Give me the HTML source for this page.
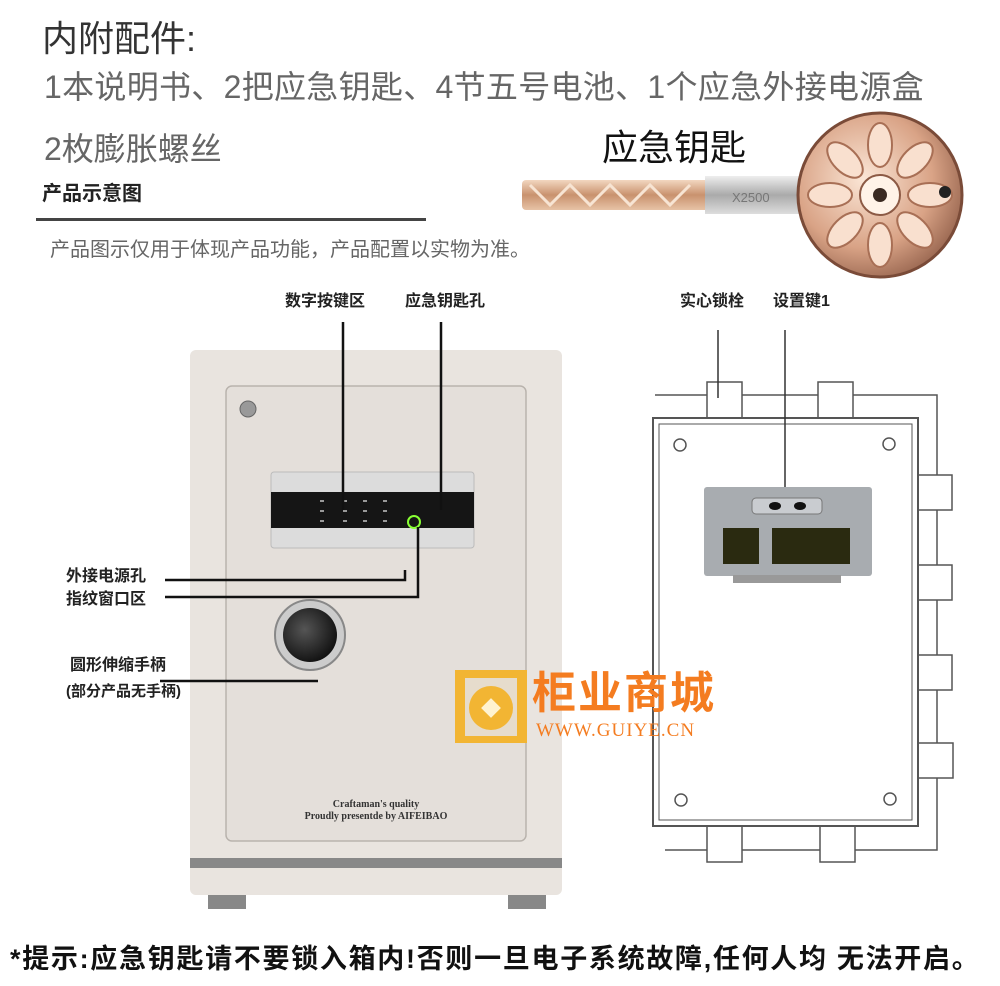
<!DOCTYPE html>
<html><head><meta charset="utf-8"><style>
*{margin:0;padding:0;box-sizing:border-box}
body{width:1000px;height:986px;background:#fff;position:relative;overflow:hidden;font-family:"Liberation Sans","Noto Sans CJK SC",sans-serif}
.t{position:absolute;white-space:nowrap;line-height:1.2}
</style></head><body>
<div class="t" style="left:42px;top:17px;font-size:36px;color:#333">内附配件:</div>
<div class="t" style="left:44px;top:68px;font-size:32px;color:#666;letter-spacing:0.3px">1本说明书、2把应急钥匙、4节五号电池、1个应急外接电源盒</div>
<div class="t" style="left:44px;top:130px;font-size:32px;color:#666">2枚膨胀螺丝</div>
<div class="t" style="left:602px;top:126px;font-size:36px;color:#111">应急钥匙</div>
<div class="t" style="left:42px;top:182px;font-size:20px;font-weight:bold;color:#222">产品示意图</div>
<div style="position:absolute;left:36px;top:218px;width:390px;height:3px;background:#444"></div>
<div class="t" style="left:50px;top:238px;font-size:20px;color:#666">产品图示仅用于体现产品功能，产品配置以实物为准。</div>

<svg style="position:absolute;left:0;top:0" width="1000" height="986">
<defs>
<linearGradient id="sh" x1="0" y1="0" x2="0" y2="1"><stop offset="0" stop-color="#f2d7c0"/><stop offset=".5" stop-color="#c9926e"/><stop offset="1" stop-color="#e7c3a6"/></linearGradient>
<linearGradient id="col" x1="0" y1="0" x2="0" y2="1"><stop offset="0" stop-color="#eee"/><stop offset=".5" stop-color="#aaa"/><stop offset="1" stop-color="#ddd"/></linearGradient>
<radialGradient id="hd" cx=".4" cy=".4" r=".7"><stop offset="0" stop-color="#fbe6d6"/><stop offset=".6" stop-color="#d9a386"/><stop offset="1" stop-color="#8c5a45"/></radialGradient>
<radialGradient id="kn" cx=".4" cy=".4" r=".7"><stop offset="0" stop-color="#555"/><stop offset="1" stop-color="#0a0a0a"/></radialGradient>
</defs>
<rect x="522" y="180" width="190" height="30" rx="4" fill="url(#sh)"/>
<path d="M530 185 l20 20 l20-20 l20 20 l20-20 l20 20 l20-20 l20 20 l20-20" stroke="#f7e4d3" stroke-width="3" fill="none"/>
<rect x="705" y="176" width="100" height="38" fill="url(#col)"/>
<text x="732" y="202" font-size="13" fill="#777" font-family="Liberation Sans">X2500</text>
<circle cx="880" cy="195" r="82" fill="url(#hd)" stroke="#7a4b38" stroke-width="3"/>
<g fill="#f9e0cf" stroke="#a86f55" stroke-width="2">
<ellipse cx="880" cy="145" rx="12" ry="22"/><ellipse cx="880" cy="245" rx="12" ry="22"/>
<ellipse cx="830" cy="195" rx="22" ry="12"/><ellipse cx="930" cy="195" rx="22" ry="12"/>
<ellipse cx="845" cy="160" rx="12" ry="22" transform="rotate(-45 845 160)"/><ellipse cx="915" cy="160" rx="12" ry="22" transform="rotate(45 915 160)"/>
<ellipse cx="845" cy="230" rx="12" ry="22" transform="rotate(45 845 230)"/><ellipse cx="915" cy="230" rx="12" ry="22" transform="rotate(-45 915 230)"/>
</g>
<circle cx="880" cy="195" r="20" fill="#fff3e8" stroke="#8c5a45" stroke-width="2"/>
<circle cx="880" cy="195" r="7" fill="#3a2a22"/>
<circle cx="945" cy="192" r="6" fill="#222"/>

<rect x="190" y="350" width="372" height="545" rx="6" fill="#e9e4df"/>
<rect x="226" y="386" width="300" height="455" rx="6" fill="#e4dfda" stroke="#b9b3ad" stroke-width="1.5"/>
<circle cx="248" cy="409" r="8" fill="#999" stroke="#666"/>
<rect x="271" y="472" width="203" height="76" rx="3" fill="#dcdcdc" stroke="#bbb"/>
<rect x="271" y="492" width="203" height="36" fill="#151515"/>
<g fill="#999"><rect x="320" y="500" width="4" height="2"/><rect x="343" y="500" width="4" height="2"/><rect x="363" y="500" width="4" height="2"/><rect x="383" y="500" width="4" height="2"/>
<rect x="320" y="510" width="4" height="2"/><rect x="343" y="510" width="4" height="2"/><rect x="363" y="510" width="4" height="2"/><rect x="383" y="510" width="4" height="2"/>
<rect x="320" y="520" width="4" height="2"/><rect x="343" y="520" width="4" height="2"/><rect x="363" y="520" width="4" height="2"/><rect x="383" y="520" width="4" height="2"/></g>
<circle cx="414" cy="522" r="6" fill="none" stroke="#8f3" stroke-width="2"/>
<circle cx="310" cy="635" r="35" fill="#ccc" stroke="#888" stroke-width="2"/>
<circle cx="310" cy="635" r="27" fill="url(#kn)"/>
<text x="376" y="807" font-size="10" font-family="Liberation Serif" font-weight="bold" text-anchor="middle" fill="#333">Craftaman's quality</text>
<text x="376" y="819" font-size="10" font-family="Liberation Serif" font-weight="bold" text-anchor="middle" fill="#333">Proudly presentde by AIFEIBAO</text>
<rect x="190" y="858" width="372" height="10" fill="#888"/>
<rect x="208" y="895" width="38" height="14" fill="#888"/><rect x="508" y="895" width="38" height="14" fill="#888"/>

<g stroke="#111" stroke-width="2.5" fill="none">
<path d="M343 322 V510"/><path d="M441 322 V510"/>
<path d="M165 580 H405 V570"/><path d="M165 597 H418 V527"/>
<path d="M160 681 H318"/>
</g>

<g stroke="#555" stroke-width="1.5" fill="#fff">
<path d="M655 395 H937 V850 H665" fill="none"/>
<rect x="707" y="382" width="35" height="36"/><rect x="818" y="382" width="35" height="36"/>
<rect x="707" y="825" width="35" height="37"/><rect x="820" y="825" width="35" height="37"/>
<rect x="917" y="475" width="35" height="35"/><rect x="917" y="565" width="35" height="35"/><rect x="917" y="655" width="35" height="35"/><rect x="918" y="743" width="35" height="35"/>
<rect x="653" y="418" width="265" height="408" stroke-width="2"/>
<rect x="659" y="424" width="253" height="396" stroke-width="1"/>
<circle cx="680" cy="445" r="6"/><circle cx="889" cy="444" r="6"/><circle cx="681" cy="800" r="6"/><circle cx="890" cy="799" r="6"/>
<path d="M718 330 V398 M785 330 V488" fill="none" stroke="#333"/>
</g>
<rect x="704" y="487" width="168" height="89" rx="3" fill="#a8acb0"/>
<rect x="752" y="498" width="70" height="16" rx="4" fill="#c9ccd0" stroke="#777"/>
<ellipse cx="775" cy="506" rx="6" ry="4" fill="#111"/><ellipse cx="800" cy="506" rx="6" ry="4" fill="#111"/>
<rect x="723" y="528" width="36" height="36" fill="#2a2a10"/><rect x="772" y="528" width="78" height="36" fill="#2a2a10"/>
<rect x="733" y="575" width="108" height="8" fill="#999"/>

<rect x="455" y="670" width="72" height="73" fill="#f2b533"/>
<rect x="465" y="678" width="52" height="58" fill="#e6dccc"/>
<circle cx="491" cy="708" r="22" fill="#f2b533"/>
<rect x="484" y="701" width="14" height="14" transform="rotate(45 491 708)" fill="#fff3d0"/>
</svg>
<div class="t" style="left:532px;top:672px;font-size:44px;line-height:44px;font-weight:bold;color:#f47c20;letter-spacing:2px">柜业商城</div>
<div class="t" style="left:536px;top:721px;font-size:19px;line-height:20px;font-family:'Liberation Serif',serif;color:#f47c20;letter-spacing:1px">WWW.GUIYE.CN</div>

<div class="t" style="left:285px;top:292px;font-size:16px;font-weight:bold;color:#222">数字按键区</div>
<div class="t" style="left:405px;top:292px;font-size:16px;font-weight:bold;color:#222">应急钥匙孔</div>
<div class="t" style="left:680px;top:292px;font-size:16px;font-weight:bold;color:#222">实心锁栓</div>
<div class="t" style="left:773px;top:292px;font-size:16px;font-weight:bold;color:#222">设置键1</div>
<div class="t" style="left:66px;top:567px;font-size:16px;font-weight:bold;color:#222">外接电源孔</div>
<div class="t" style="left:66px;top:590px;font-size:16px;font-weight:bold;color:#222">指纹窗口区</div>
<div class="t" style="left:70px;top:656px;font-size:16px;font-weight:bold;color:#222">圆形伸缩手柄</div>
<div class="t" style="left:66px;top:683px;font-size:15px;font-weight:bold;color:#222">(部分产品无手柄)</div>
<div class="t" style="left:10px;top:943px;font-size:27px;font-weight:bold;color:#111;letter-spacing:1.7px">*提示:应急钥匙请不要锁入箱内!否则一旦电子系统故障,任何人均 无法开启。</div>
</body></html>
